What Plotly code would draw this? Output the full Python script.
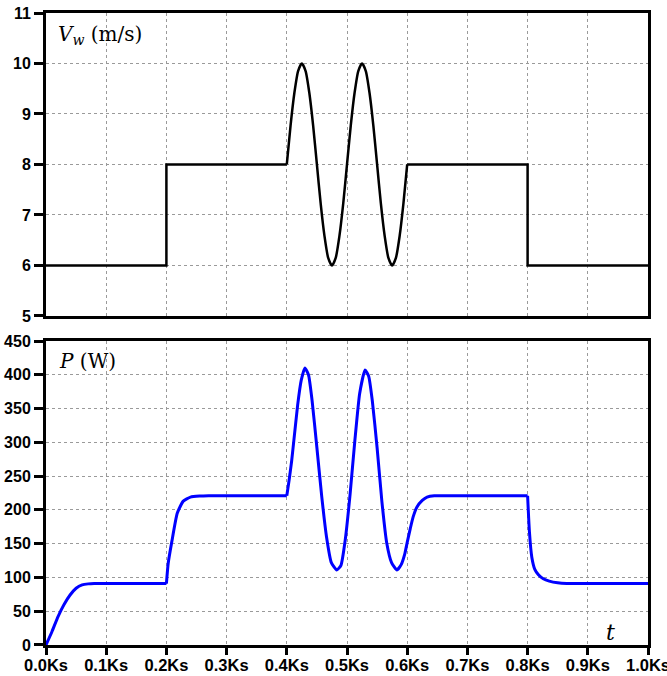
import plotly.graph_objects as go

# ---- Wind speed V_w (m/s), top panel ----
t_vw_a = [0.0, 0.2, 0.2, 0.4]
vw_a = [6, 6, 8, 8]
t_vw_b = [0.4, 0.40625, 0.4125, 0.41875, 0.425, 0.43125, 0.4375, 0.44375, 0.45,
          0.45625, 0.4625, 0.46875, 0.475, 0.48125, 0.4875, 0.49375, 0.5,
          0.50625, 0.5125, 0.51875, 0.525, 0.53125, 0.5375, 0.54375, 0.55,
          0.55625, 0.5625, 0.56875, 0.575, 0.58125, 0.5875, 0.59375, 0.6]
vw_b = [8.0, 8.77, 9.41, 9.85, 10.0, 9.85, 9.41, 8.77, 8.0,
        7.23, 6.59, 6.15, 6.0, 6.15, 6.59, 7.23, 8.0,
        8.77, 9.41, 9.85, 10.0, 9.85, 9.41, 8.77, 8.0,
        7.23, 6.59, 6.15, 6.0, 6.15, 6.59, 7.23, 8.0]
t_vw_c = [0.6, 0.8, 0.8, 1.0]
vw_c = [8, 8, 6, 6]

# ---- Power P (W), bottom panel, in four segments ----
t_p1 = [0.0, 0.01, 0.02, 0.03, 0.04, 0.05, 0.06, 0.07, 0.08, 0.1, 0.12, 0.14, 0.16, 0.18, 0.2]
p1 = [0, 20, 42, 60, 74, 84, 89, 90.5, 91, 91, 91, 91, 91, 91, 91]

t_p2 = [0.2, 0.203, 0.209, 0.218, 0.228, 0.24, 0.255, 0.27, 0.29, 0.31, 0.33, 0.35, 0.37, 0.39, 0.4]
p2 = [91, 121, 153, 195, 213, 219, 220.5, 221, 221, 221, 221, 221, 221, 221, 221]

t_p3 = [0.4, 0.404, 0.408, 0.412, 0.418, 0.424, 0.43, 0.436, 0.442, 0.45,
        0.458, 0.466, 0.474, 0.483, 0.49, 0.497, 0.505, 0.513, 0.521,
        0.53, 0.536, 0.542, 0.55, 0.558, 0.566, 0.574, 0.583, 0.59,
        0.596, 0.6, 0.605, 0.61, 0.616, 0.625, 0.633, 0.645, 0.66, 0.68, 0.7,
        0.72, 0.74, 0.76, 0.78, 0.8]
p3 = [221, 245, 272, 305, 355, 392, 410, 400, 362, 292,
      220, 160, 122, 111, 118, 155, 222, 302, 372,
      407, 398, 362, 292, 212, 151, 122, 111, 119,
      135, 152, 172, 190, 204, 214, 219, 221, 221, 221, 221,
      221, 221, 221, 221, 221]

t_p4 = [0.8, 0.803, 0.807, 0.812, 0.818, 0.826, 0.836, 0.85, 0.865, 0.88, 0.9, 0.92, 0.94, 0.96, 0.98, 1.0]
p4 = [221, 168, 130, 112, 104, 98, 94.5, 92, 91, 91, 91, 91, 91, 91, 91, 91]

x_ticks = [0.0, 0.1, 0.2, 0.3, 0.4, 0.5, 0.6, 0.7, 0.8, 0.9, 1.0]
x_labels = ["0.0Ks", "0.1Ks", "0.2Ks", "0.3Ks", "0.4Ks", "0.5Ks",
            "0.6Ks", "0.7Ks", "0.8Ks", "0.9Ks", "1.0Ks"]
vw_ticks = [5, 6, 7, 8, 9, 10, 11]
p_ticks = [0, 50, 100, 150, 200, 250, 300, 350, 400, 450]

fig = go.Figure()

black_lin = dict(color="black", width=2.5)
black_spl = dict(color="black", width=2.5, shape="spline", smoothing=0.6)
blue_spl = dict(color="#0000ff", width=3, shape="spline", smoothing=0.5)

fig.add_trace(go.Scatter(x=t_vw_a, y=vw_a, mode="lines", line=black_lin, xaxis="x", yaxis="y", showlegend=False))
fig.add_trace(go.Scatter(x=t_vw_b, y=vw_b, mode="lines", line=black_spl, xaxis="x", yaxis="y", showlegend=False))
fig.add_trace(go.Scatter(x=t_vw_c, y=vw_c, mode="lines", line=black_lin, xaxis="x", yaxis="y", showlegend=False))

for tx, py in [(t_p1, p1), (t_p2, p2), (t_p3, p3), (t_p4, p4)]:
    fig.add_trace(go.Scatter(x=tx, y=py, mode="lines", line=blue_spl,
                             xaxis="x2", yaxis="y2", showlegend=False))

font_x = dict(family="Liberation Sans, Arial", size=16.5, color="black")
font_y = dict(family="Liberation Sans, Arial", size=16, color="black")
common = dict(showline=True, mirror=True, linecolor="black", linewidth=3,
              showgrid=True, gridcolor="#9a9a9a", griddash="dot", gridwidth=1,
              zeroline=False, automargin=False, layer="above traces")

fig.update_layout(
    width=667, height=676,
    margin=dict(l=46, r=19, t=13, b=31),
    plot_bgcolor="white", paper_bgcolor="white",
    xaxis=dict(domain=[0, 1], range=[0, 1], tickvals=x_ticks, showticklabels=False,
               ticks="", anchor="y", **common),
    yaxis=dict(domain=[0.5206, 1.0], range=[5, 11], tickvals=vw_ticks,
               ticktext=["<b>%d</b>" % v for v in vw_ticks], tickfont=font_y,
               ticks="outside", ticklen=9, tickwidth=2.5, tickcolor="black",
               anchor="x", **common),
    xaxis2=dict(domain=[0, 1], range=[0, 1], tickvals=x_ticks,
                ticktext=["<b>%s</b>" % s for s in x_labels], tickfont=font_x,
                ticks="outside", ticklen=7, tickwidth=2.5, tickcolor="black",
                ticklabelstandoff=-4,
                ticklabeloverflow="allow", anchor="y2", **common),
    yaxis2=dict(domain=[0.0, 0.481], range=[0, 450], tickvals=p_ticks,
                ticktext=["<b>%d</b>" % v for v in p_ticks], tickfont=font_y,
                ticks="outside", ticklen=9, tickwidth=2.5, tickcolor="black",
                anchor="x2", **common),
)

serif = "DejaVu Serif, Liberation Serif"
fig.add_annotation(x=0.016, y=10.56, xref="x", yref="y", xanchor="left", yanchor="middle",
                   text="<i>V</i><sub><i>w</i></sub> (m/s)", showarrow=False,
                   font=dict(family=serif, size=20, color="black"))
fig.add_annotation(x=0.018, y=421, xref="x2", yref="y2", xanchor="left", yanchor="middle",
                   text="<i>P</i> (W)", showarrow=False,
                   font=dict(family=serif, size=20, color="black"))
fig.add_annotation(x=0.937, y=19, xref="x2", yref="y2", xanchor="center", yanchor="middle",
                   text="<i>t</i>", showarrow=False,
                   font=dict(family=serif, size=22, color="black"))

fig.write_html("out.html", config={"displayModeBar": False},
               post_script="document.body.style.margin='0';document.body.style.overflow='hidden';")
